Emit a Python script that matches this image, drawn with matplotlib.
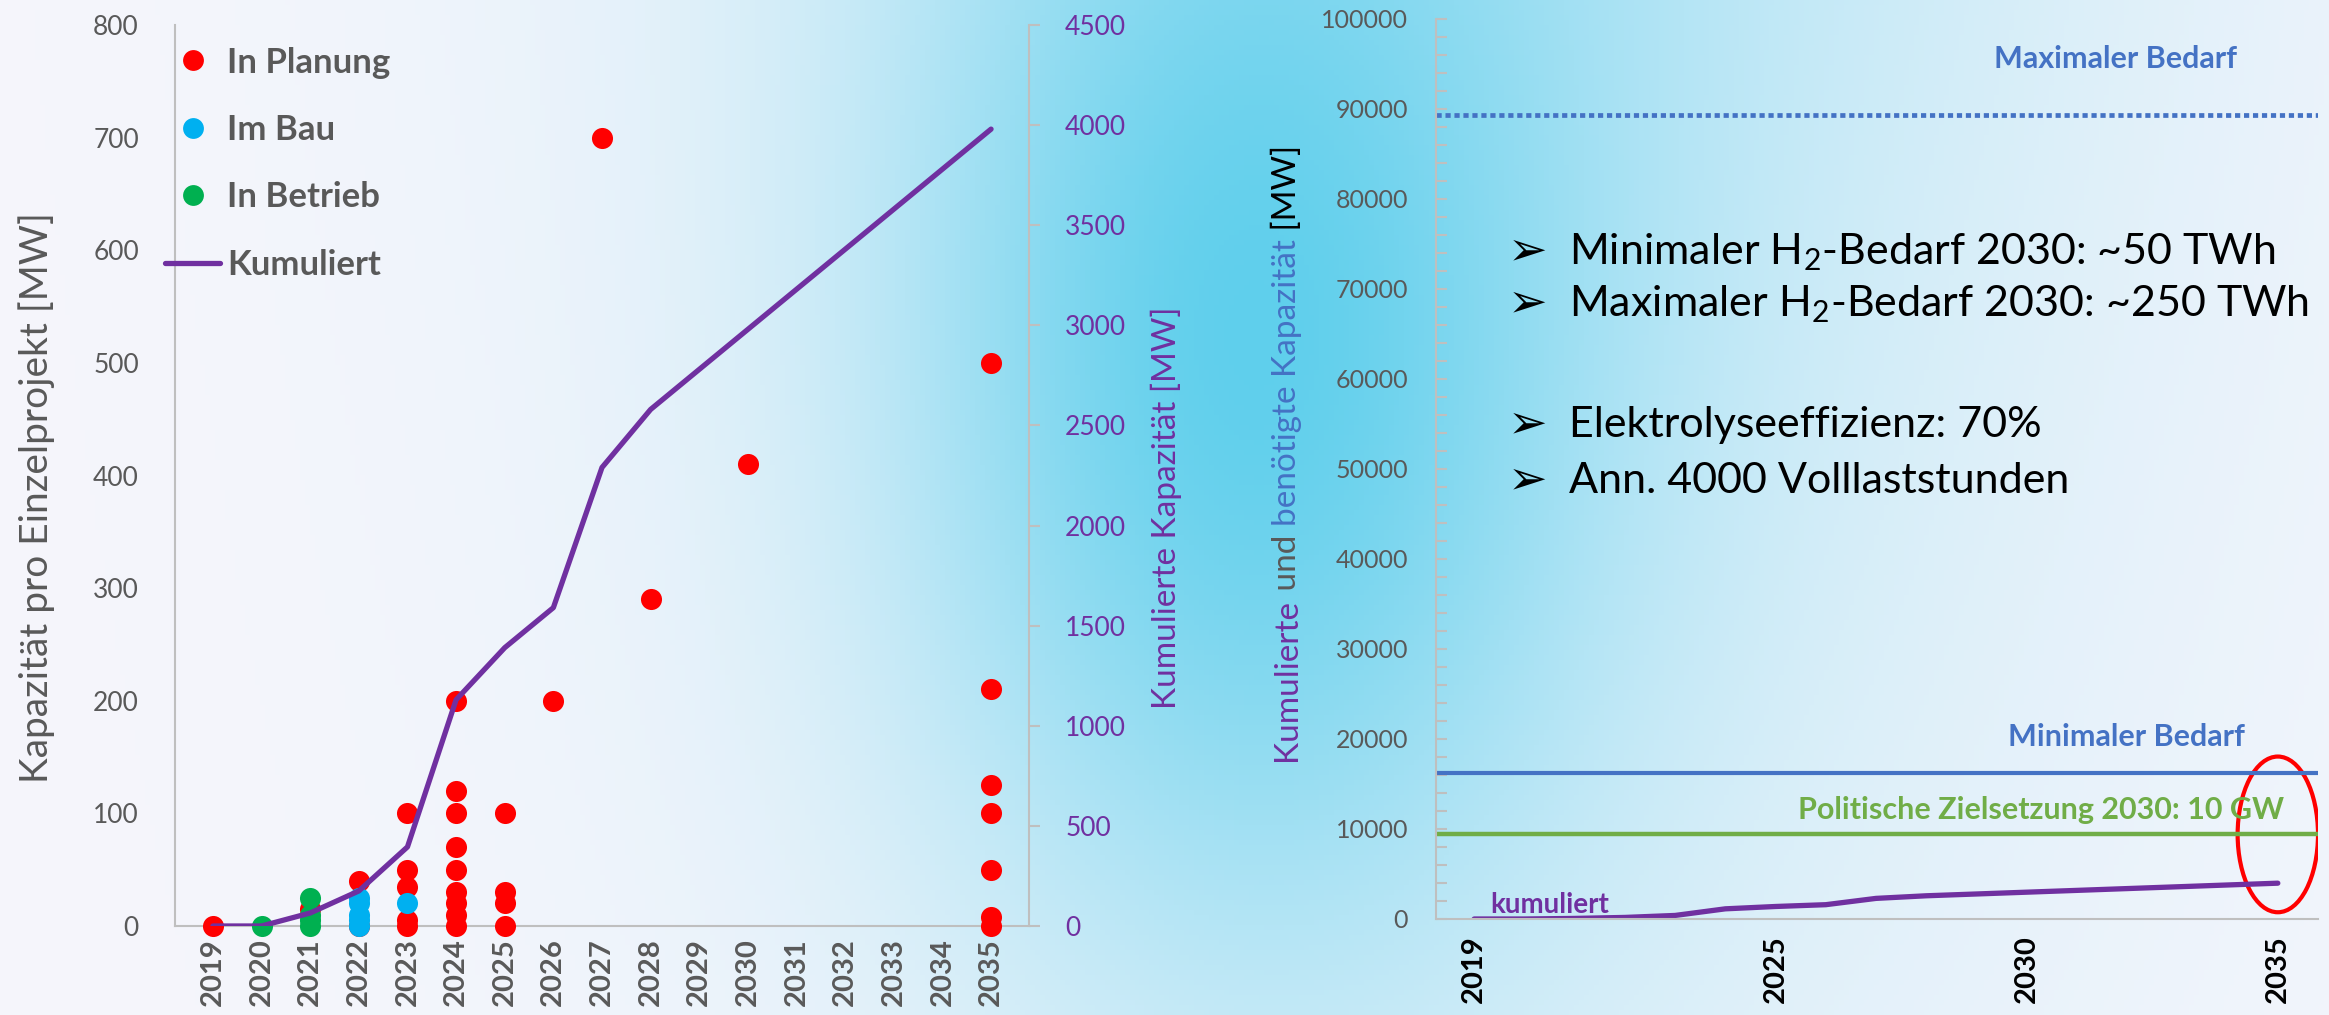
import numpy as np
import matplotlib
matplotlib.use('Agg')
import matplotlib.pyplot as plt
from matplotlib.patches import Ellipse
from matplotlib.lines import Line2D
from matplotlib.ticker import MultipleLocator

plt.rcParams['font.family'] = ['Lato', 'DejaVu Sans']
plt.rcParams['mathtext.default'] = 'regular'

# --- data ---
years = list(range(2019, 2036))

# single projects: (year, MW)
planung_year = [2019, 2021, 2022, 2022,
                2023, 2023, 2023, 2023, 2023,
                2024, 2024, 2024, 2024, 2024, 2024, 2024, 2024, 2024,
                2025, 2025, 2025, 2025,
                2026, 2027, 2028, 2030,
                2035, 2035, 2035, 2035, 2035, 2035, 2035]
planung_mw = [0, 15, 40, 0,
              100, 50, 35, 5, 0,
              200, 120, 100, 70, 50, 30, 20, 10, 0,
              100, 30, 20, 0,
              200, 700, 290, 410,
              500, 210, 125, 100, 50, 8, 0]
bau_year = [2022, 2022, 2022, 2022, 2022, 2023]
bau_mw = [25, 20, 10, 5, 0, 20]
betrieb_year = [2020, 2021, 2021, 2021, 2021]
betrieb_mw = [0, 25, 10, 5, 0]

# cumulative capacity [MW]
kumuliert = [0, 0, 65, 175, 395, 1130, 1390, 1590, 2290, 2580,
             2780, 2980, 3180, 3380, 3580, 3780, 3980]

# demand / target lines [MW]
max_bedarf = 89300
min_bedarf = 16200
ziel_2030 = 9500
right_xticks = [2019, 2025, 2030, 2035]

bullets = ['Minimaler H$_2$-Bedarf 2030: ~50 TWh',
           'Maximaler H$_2$-Bedarf 2030: ~250 TWh',
           'Elektrolyseeffizienz: 70%',
           'Ann. 4000 Volllaststunden']

# --- colours ---
red = '#FF0000'
lblue = '#00B0F0'
green = '#00B050'
purple = '#7030A0'
dblue = '#4472C4'
lgreen = '#70AD47'
gray = '#595959'
axgray = '#BFBFBF'

W, H = 2329, 1015
fig = plt.figure(figsize=(W / 100, H / 100), dpi=100)

# background gradient
bg = fig.add_axes([0, 0, 1, 1], zorder=-1)
u = np.linspace(0, 1, 466)
v = np.linspace(0, 1, 203)
U, V = np.meshgrid(u, v)
c1 = np.exp(-((U - 0.54) / 0.14) ** 2 - ((V - 0.33) / 0.55) ** 2)
c2 = 0.4 * np.exp(-((U - 0.62) / 0.3) ** 2) * (1 - 0.6 * V)
c = 1 - (1 - c1) * (1 - c2)
base = np.array([246, 246, 252]) / 255
cyan = np.array([95, 207, 236]) / 255
img = base * (1 - c[..., None]) + cyan * c[..., None]
bg.imshow(img, aspect='auto', extent=(0, 1, 0, 1))
bg.axis('off')

# ---------------- left chart ----------------
ax1 = fig.add_axes([175 / W, 89 / H, 854 / W, 901 / H])
ax1.set_facecolor('none')
xi = {y: i for i, y in enumerate(years)}
ax1.scatter([xi[y] for y in planung_year], planung_mw, s=230, color=red, zorder=3,
            linewidths=0, clip_on=False)
ax1.scatter([xi[y] for y in bau_year], bau_mw, s=230, color=lblue, zorder=4,
            linewidths=0, clip_on=False)
ax1.scatter([xi[y] for y in betrieb_year], betrieb_mw, s=230, color=green, zorder=5,
            linewidths=0, clip_on=False)
ax1.set_xlim(-0.78, len(years) - 1 + 0.78)
ax1.set_ylim(0, 800)
ax1.yaxis.set_major_locator(MultipleLocator(100))
ax1.set_xticks(range(len(years)))
ax1.set_xticklabels([str(y) for y in years], rotation=90, fontsize=21,
                    fontweight='bold', color=gray)
ax1.tick_params(axis='x', length=0, pad=9)
ax1.tick_params(axis='y', length=0, pad=26, labelsize=19, labelcolor=gray)
for s in ['top', 'right']:
    ax1.spines[s].set_visible(False)
for s in ['left', 'bottom']:
    ax1.spines[s].set_color(axgray)
    ax1.spines[s].set_linewidth(1.5)

ax1r = ax1.twinx()
ax1r.set_facecolor('none')
ax1r.plot(range(len(years)), kumuliert, color=purple, lw=3.8, solid_capstyle='round', zorder=6)
ax1r.set_ylim(0, 4500)
ax1r.yaxis.set_major_locator(MultipleLocator(500))
ax1r.tick_params(axis='y', direction='out', length=8, width=1.5, color=axgray,
                 pad=18, labelsize=19, labelcolor=purple)
for s in ['top', 'left', 'bottom']:
    ax1r.spines[s].set_visible(False)
ax1r.spines['right'].set_color(axgray)
ax1r.spines['right'].set_linewidth(1.5)

handles = [Line2D([], [], ls='none', marker='o', ms=15, mew=0, color=red),
           Line2D([], [], ls='none', marker='o', ms=15, mew=0, color=lblue),
           Line2D([], [], ls='none', marker='o', ms=15, mew=0, color=green),
           Line2D([], [], color=purple, lw=3.8, solid_capstyle='round')]
leg = ax1r.legend(handles, ['In Planung', 'Im Bau', 'In Betrieb', 'Kumuliert'],
                  loc='upper left', bbox_to_anchor=(-0.012, 0.976), frameon=False,
                  borderaxespad=0, borderpad=0, handlelength=1.6, handletextpad=0.2,
                  labelspacing=1.02, prop={'weight': 'bold', 'size': 25})
for t in leg.get_texts():
    t.set_color(gray)

fig.text(37 / W, 1 - 498 / H, 'Kapazität pro Einzelprojekt [MW]', rotation=90,
         ha='center', va='center', fontsize=28, color=gray)
fig.text(1166 / W, 1 - 508 / H, 'Kumulierte Kapazität [MW]', rotation=90,
         ha='center', va='center', fontsize=24, color=purple)

# ---------------- right chart ----------------
ax2 = fig.add_axes([1436 / W, 96 / H, 882 / W, 900 / H])
ax2.set_facecolor('none')
ax2.set_xlim(2018.24, 2035.8)
ax2.set_ylim(0, 100000)
ax2.axhline(max_bedarf, color=dblue, lw=3.4, dashes=(1.1, 0.8))
ax2.axhline(min_bedarf, color=dblue, lw=3)
ax2.axhline(ziel_2030, color=lgreen, lw=3.2)
ax2.plot(years, kumuliert, color=purple, lw=3.8, solid_capstyle='round')
ax2.add_patch(Ellipse((years[-1], 9400), 1.6, 17300, fill=False, ec=red, lw=3))
ax2.yaxis.set_major_locator(MultipleLocator(10000))
ax2.yaxis.set_minor_locator(MultipleLocator(2000))
ax2.set_xticks(right_xticks)
ax2.set_xticklabels([str(y) for y in right_xticks], rotation=90, fontsize=21,
                    fontweight='bold', color='black')
ax2.tick_params(axis='x', length=0, pad=12)
ax2.tick_params(axis='y', which='both', direction='in', length=8, width=1.5,
                color=axgray, pad=20, labelsize=18, labelcolor=gray)
for s in ['top', 'right']:
    ax2.spines[s].set_visible(False)
for s in ['left', 'bottom']:
    ax2.spines[s].set_color(axgray)
    ax2.spines[s].set_linewidth(1.5)

ax2.text(0.77, 0.955, 'Maximaler Bedarf', transform=ax2.transAxes, ha='center',
         va='center', fontsize=22, fontweight='bold', color=dblue)
ax2.text(0.783, 0.202, 'Minimaler Bedarf', transform=ax2.transAxes, ha='center',
         va='center', fontsize=22, fontweight='bold', color=dblue)
ax2.text(0.686, 0.121, 'Politische Zielsetzung 2030: 10 GW', transform=ax2.transAxes,
         ha='center', va='center', fontsize=22, fontweight='bold', color=lgreen)
ax2.text(0.129, 0.016, 'kumuliert', transform=ax2.transAxes, ha='center',
         va='center', fontsize=20, fontweight='bold', color=purple)

for txt, ypx in zip(bullets, [252, 304, 425, 481]):
    fig.text(1508 / W, 1 - ypx / H, '\u27a2', fontsize=34, ha='left', va='center',
             family=['DejaVu Sans'], color='black')
    fig.text(1569 / W, 1 - ypx / H, txt, fontsize=31, ha='left', va='center', color='black')

# multi-coloured y label of the right chart
fig.canvas.draw()
renderer = fig.canvas.get_renderer()
parts = [('Kumulierte', purple), (' und ', gray), ('benötigte Kapazität', dblue), (' [MW]', 'black')]
texts = [fig.text(0, 0, s, color=col, rotation=90, rotation_mode='anchor',
                  ha='left', va='baseline', fontsize=24) for s, col in parts]
lengths = [t.get_window_extent(renderer).height for t in texts]
ypos = 453 + sum(lengths) / 2
for t, L in zip(texts, lengths):
    t.set_position((1296 / W, 1 - ypos / H))
    ypos -= L

fig.savefig('out.png', dpi=100)
